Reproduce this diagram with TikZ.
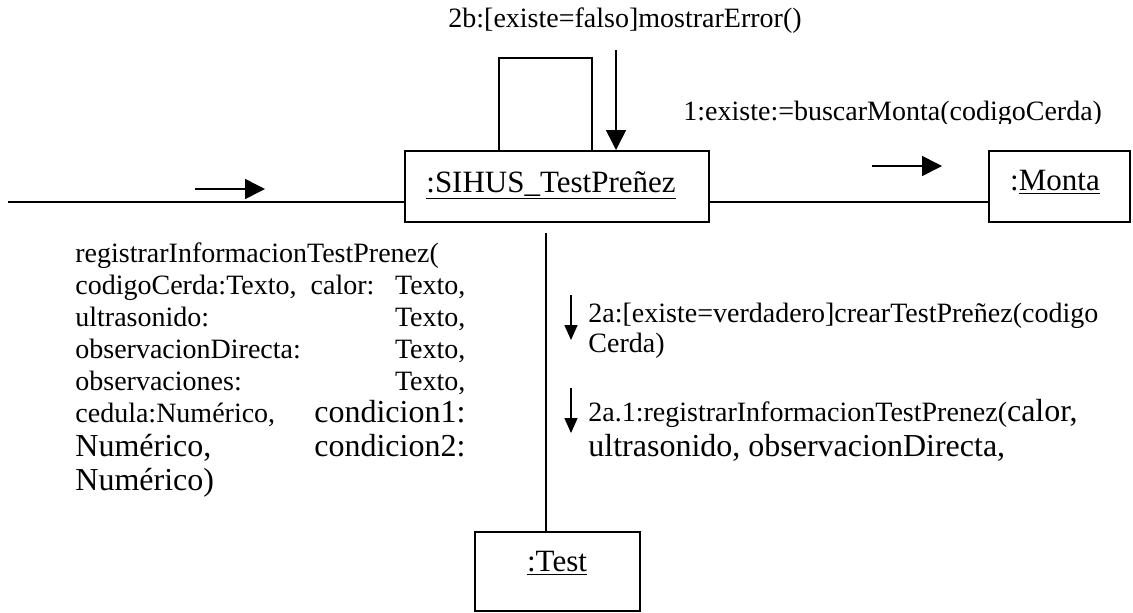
\documentclass[tikz,border=0pt]{standalone}
\usepackage{fontspec}
\setmainfont{Liberation Serif}
\usetikzlibrary{arrows.meta}
\newcommand\myfsA{\fontsize{14}{16}\selectfont}
\newcommand\myfsB{\fontsize{16}{18}\selectfont}
\newcommand\myfsC{\fontsize{15.5}{18}\selectfont}
\newlength\myjw
\setlength\myjw{195pt}
\begin{document}
\begin{tikzpicture}[x=0.5pt,y=-0.5pt,
  obj/.style={draw, line width=1pt, inner sep=0pt},
  objlbl/.style={inner sep=0pt, anchor=base, font=\myfsC},
  lnk/.style={line width=1pt},
  msg/.style={line width=0.8pt, -{Triangle[length=10pt,width=10pt]}},
  smsg/.style={line width=0.8pt, -{Triangle[length=7.5pt,width=6.5pt]}},
  txt/.style={inner sep=0pt, anchor=base west, font=\myfsA}]
\useasboundingbox (0,0) rectangle (1133,612);

% objects
\node[obj, minimum width=152pt, minimum height=35.5pt] (sihus) at (557,186.5) {};
\node[objlbl] (sihusl) at (551,192) {\underline{:SIHUS\_TestPreñez}};
\node[obj, minimum width=70.5pt, minimum height=35.5pt] (monta) at (1059.5,186.5) {};
\node[objlbl] (montal) at (1055,190) {:\underline{Monta}};
\node[obj, minimum width=82.5pt, minimum height=39.5pt] (test) at (557.5,571.5) {};
\node[objlbl] (testl) at (557,571) {\underline{:Test}};

% links
\coordinate (in) at (8,202);
\coordinate (vx) at (546,233);
\draw[lnk] (in) -- (in -| sihus.west);
\draw[lnk] (in -| sihus.east) -- (in -| monta.west);
\draw[lnk] (vx) -- (vx |- test.north);
\coordinate (lpA) at (499,58);
\coordinate (lpB) at (592,58);
\draw[lnk] (lpA |- sihus.north) -- (lpA) -- (lpB) -- (lpB |- sihus.north);

% messages
\coordinate (m0a) at (195,189);
\coordinate (m0b) at (265,189);
\draw[msg] (m0a) -- (m0b);
\coordinate (m1a) at (872,166);
\coordinate (m1b) at (942,166);
\draw[msg] (m1a) -- (m1b);
\coordinate (m2b) at (616,50);
\draw[msg] (m2b) -- (m2b |- sihus.north);
\coordinate (m2aa) at (571,295);
\coordinate (m2ab) at (571,340);
\draw[smsg] (m2aa) -- (m2ab);
\coordinate (m21a) at (571,388);
\coordinate (m21b) at (571,433);
\draw[smsg] (m21a) -- (m21b);

% labels
\node[txt] (t2b) at (448,27) {2b:[existe=falso]mostrarError()};
\begin{scope}
\clip (600,60) rectangle (1133,123);
\node[txt] (t1) at (683,120) {1:existe:=buscarMonta(codigoCerda)};
\end{scope}

\node[txt] (l1) at (75,262) {registrarInformacionTestPrenez(};
\node[txt] (l2) at (75,294) {\makebox[\myjw][s]{codigoCerda:Texto, calor: Texto,}};
\node[txt] (l3) at (75,326) {\makebox[\myjw][s]{ultrasonido: Texto,}};
\node[txt] (l4) at (75,358) {\makebox[\myjw][s]{observacionDirecta: Texto,}};
\node[txt] (l5) at (75,390) {\makebox[\myjw][s]{observaciones: Texto,}};
\node[txt] (l6) at (75,422) {\makebox[\myjw][s]{cedula:Numérico, {\myfsB condicion1:}}};
\node[txt] (l7) at (75,456) {\myfsB\makebox[\myjw][s]{Numérico, condicion2:}};
\node[txt] (l8) at (75,490) {\myfsB Numérico)};

\node[txt] (r1) at (588,322) {2a:[existe=verdadero]crearTestPreñez(codigo};
\node[txt] (r2) at (588,352) {Cerda)};
\node[txt] (r3) at (588,421) {2a.1:registrarInformacionTestPrenez({\myfsB calor,}};
\node[txt] (r4) at (588,456) {\myfsB ultrasonido, observacionDirecta,};
\end{tikzpicture}
\end{document}
